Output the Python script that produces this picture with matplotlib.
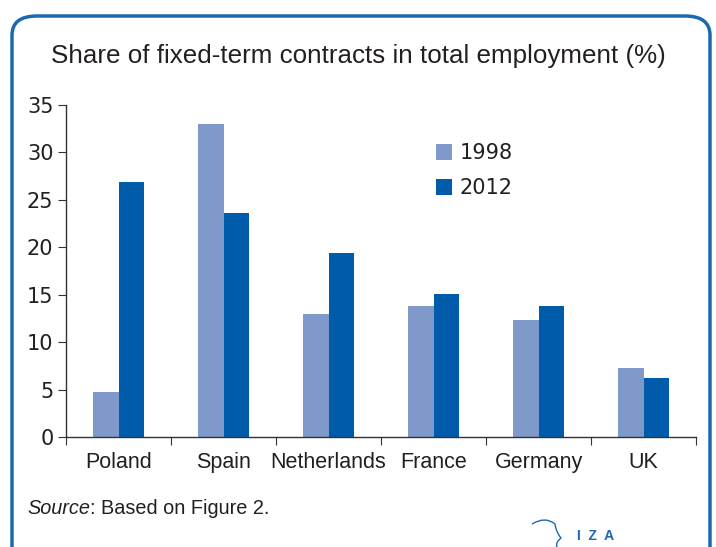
import numpy as np
import matplotlib.pyplot as plt
from matplotlib.patches import FancyBboxPatch
from matplotlib.path import Path
from matplotlib.patches import PathPatch

countries = ['Poland', 'Spain', 'Netherlands', 'France', 'Germany', 'UK']
share_1998 = [4.7, 33.0, 13.0, 13.8, 12.3, 7.3]
share_2012 = [26.9, 23.6, 19.4, 15.1, 13.8, 6.2]
years = ['1998', '2012']

light = '#7f99cb'
dark = '#005baa'
frame_col = '#1b68b3'
txt = '#231f20'

plt.rcParams['font.family'] = ['Liberation Sans', 'DejaVu Sans']

fig = plt.figure(figsize=(7.16, 5.47), dpi=100)

# rounded blue frame
frame = FancyBboxPatch((12 / 716, -0.05), 698 / 716, 1 - 16 / 547 + 0.05,
                       boxstyle='round,pad=0,rounding_size=0.035',
                       transform=fig.transFigure, fill=False,
                       edgecolor=frame_col, linewidth=2.5, clip_on=False)
fig.patches.append(frame)

fig.text(0.5, 1 - 56 / 547, 'Share of fixed-term contracts in total employment (%)',
         ha='center', va='center', fontsize=18.7, color=txt)

ax = fig.add_axes([66 / 716, 1 - 437 / 547, 630 / 716, 332 / 547])
x = np.arange(len(countries))
w = 0.245
ax.bar(x - w / 2, share_1998, w, color=light, label=years[0])
ax.bar(x + w / 2, share_2012, w, color=dark, label=years[1])

ax.set_xlim(-0.5, len(countries) - 0.5)
ax.set_ylim(0, 35)
ax.set_yticks(np.arange(0, 36, 5))
ax.set_yticklabels([str(v) for v in range(0, 36, 5)], fontsize=15, color=txt,
                   family='DejaVu Sans')
ax.set_xticks(np.arange(-0.5, len(countries), 1.0))
ax.set_xticklabels([])
ax.set_xticks(x, minor=True)
ax.set_xticklabels(countries, minor=True, fontsize=15.5, color=txt, va='baseline')
ax.tick_params(axis='x', which='minor', length=0, pad=22)
ax.tick_params(axis='x', which='major', length=6, color='#333333')
ax.tick_params(axis='y', length=6, color='#333333', pad=3)
for s in ['top', 'right']:
    ax.spines[s].set_visible(False)
for s in ['left', 'bottom']:
    ax.spines[s].set_color('#333333')
    ax.spines[s].set_linewidth(1.0)

leg = ax.legend(loc='upper left', bbox_to_anchor=(0.587, 0.885), frameon=False,
                prop={'family': 'DejaVu Sans', 'size': 15},
                handlelength=0.8, handleheight=0.8,
                handletextpad=0.35, labelspacing=0.72, borderpad=0,
                borderaxespad=0)
for t in leg.get_texts():
    t.set_color(txt)

src = fig.text(27 / 716, 1 - 508 / 547, 'Source', style='italic', fontsize=14.3,
               color=txt, va='center')
ax.annotate(': Based on Figure 2.', xy=(1, 0.5), xycoords=src, va='center',
            ha='left', fontsize=14.3, color=txt, annotation_clip=False)

# IZA logo
fig.text(577 / 716, 1 - 536 / 547, 'I  Z  A', fontsize=10, fontweight='bold',
         color=frame_col, va='center')
verts = [(532, 524), (545, 516), (555, 524), (556, 532), (561, 538), (555, 543), (557, 547)]
verts = [(vx / 716, 1 - vy / 547) for vx, vy in verts]
codes = [Path.MOVETO] + [Path.CURVE3] * 6
logo = PathPatch(Path(verts, codes), transform=fig.transFigure, fill=False,
                 edgecolor=frame_col, linewidth=1.0)
fig.patches.append(logo)

fig.savefig('out.png', dpi=100)
